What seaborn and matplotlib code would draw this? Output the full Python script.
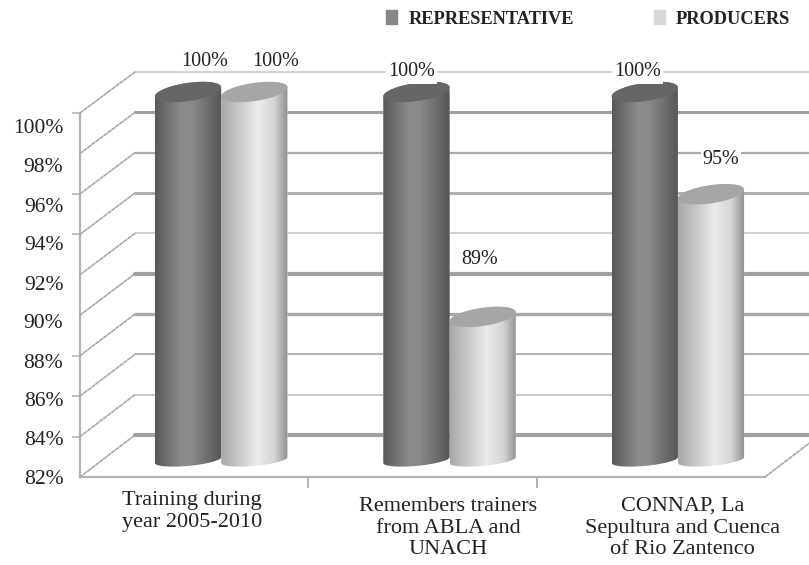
import matplotlib

matplotlib.use("Agg")
import matplotlib.pyplot as plt
import numpy as np
import pandas as pd
import seaborn as sns
from matplotlib.colors import LinearSegmentedColormap
from matplotlib.patches import ConnectionPatch, Patch, Polygon
from matplotlib.transforms import ScaledTranslation

categories = [
    "Training during\nyear 2005-2010",
    "Remembers trainers\nfrom ABLA and\nUNACH",
    "CONNAP, La\nSepultura and Cuenca\nof Rio Zantenco",
]
representative = [100, 100, 100]
producers = [100, 89, 95]
y_ticks = [82, 84, 86, 88, 90, 92, 94, 96, 98, 100]

W, H = 809, 565
GREY = "#b4b4b4"
TEXT = "#222222"

sns.set_theme(style="white")
plt.rcParams["font.family"] = ["Liberation Serif", "DejaVu Serif"]

df = pd.DataFrame(
    {"cat": categories, "REPRESENTATIVE": representative, "PRODUCERS": producers}
).melt(id_vars="cat", var_name="group", value_name="pct")


# axes box given in pixels: x of the left edge, y of the 82% line and of the 100% line
def plane(fig, left, y82, y100):
    ax = fig.add_axes([left / W, 1 - y82 / H, 685 / W, (y82 - y100) / H])
    ax.set_xlim(-0.5, 2.5)
    ax.set_ylim(82, 100)
    ax.patch.set_alpha(0)
    return ax


# move a tick label by some pixels, the print has them off the tick positions
def shift_label(label, dx, dy):
    label.set_transform(
        label.get_transform() + ScaledTranslation(dx / 100, -dy / 100, fig.dpi_scale_trans)
    )


fig = plt.figure(figsize=(W / 100, H / 100), dpi=100)
back = plane(fig, 135, 435, 72)
front = plane(fig, 80, 477, 113)
bars = plane(fig, 107, 460, 92)

# back wall lines, some of them print heavier than the others
grid_lw = [3, 1.2, 1.5, 2.4, 3, 1.1, 2, 1.6, 2.2, 1.1]
grid_col = ["#a0a0a0", "#c0c0c0", "#b4b4b4", "#a8a8a8", "#a0a0a0",
            "#c4c4c4", "#a8a8a8", "#aaaaaa", "#a0a0a0", "#c8c8c8"]
back.set_yticks(y_ticks)
back.set_xticks([])
back.set_yticklabels([])
back.tick_params(left=False)
back.grid(axis="y")
for line, lw, col in zip(back.yaxis.get_gridlines(), grid_lw, grid_col):
    line.set_linewidth(lw)
    line.set_color(col)
    line.set_clip_on(False)
sns.despine(ax=back, left=True, bottom=True, right=True, top=True)

# front frame with the tick labels
front.set_yticks(y_ticks)
front.set_yticklabels([f"{t}%" for t in y_ticks], fontsize=15.5, color=TEXT)
front.set_xticks([0, 1, 2])
front.set_xticklabels(categories, fontsize=16, color=TEXT, linespacing=1.2)
front.set_xticks([0.5, 1.5], minor=True)
front.tick_params(axis="x", which="major", length=0, pad=10)
front.tick_params(axis="x", which="minor", bottom=True, length=8, width=1.4, color=GREY)
front.tick_params(axis="y", left=True, length=6, width=1.2, color=GREY, pad=6)
sns.despine(ax=front, right=True, top=True)
for side in ["left", "bottom"]:
    front.spines[side].set_color(GREY)
    front.spines[side].set_linewidth(1.6)

label_drop = [0, 1, 3, 5, 6, 8, 9, 11, 12, 13]
tick_on = [False, True, True, True, False, False, True, True, False, True]
for tick, drop, on in zip(front.yaxis.get_major_ticks(), label_drop, tick_on):
    shift_label(tick.label1, 0, drop)
    tick.tick1line.set_visible(on)
for label, dx, dy in zip(front.get_xticklabels(), [-2, 26, 32], [0, 6, 6]):
    shift_label(label, dx, dy)

# dashed floor and wall edges between front and back
dash = dict(color="#a8a8a8", lw=1.2, ls=(0, (2, 1)))
for t in y_ticks:
    fig.add_artist(ConnectionPatch((-0.5, t), (-0.5, t), front.transData, back.transData, **dash))
fig.add_artist(ConnectionPatch((2.5, 82), (2.5, 82), front.transData, back.transData, **dash))

palette = {"REPRESENTATIVE": "#868686", "PRODUCERS": "#d8d8d8"}
sns.barplot(
    data=df, x="cat", y="pct", hue="group", palette=palette,
    width=0.58, gap=0, legend=False, ax=bars,
)
bars.set_axis_off()

body_maps = [
    LinearSegmentedColormap.from_list(
        "rep", [(0, "#585858"), (0.4, "#8c8c8c"), (0.55, "#8a8a8a"), (1, "#555555")]
    ),
    LinearSegmentedColormap.from_list(
        "prod", [(0, "#a8a8a8"), (0.55, "#ebebeb"), (0.8, "#d4d4d4"), (1, "#8e8e8e")]
    ),
]
cap_colors = ["#666666", "#a6a6a6"]
# label offsets from the top of each bar, in pixels
label_dx = [[17, -5, -7], [21, -3, 10]]
label_dy = [[31, 20, 20], [31, 57, 35]]
label_box = [[False, True, True], [False, False, True]]

ry, tilt = 9 / 20.17, 4.5 / 20.17
t = np.linspace(0, 2 * np.pi, 120)
for g, container in enumerate(bars.containers):
    for c, bar in enumerate(container):
        top = bar.get_height()
        x0, w = bar.get_x(), bar.get_width()
        cx = x0 + w / 2
        bar.set_bounds(x0, 82, w, top - 82)
        # outline: front half of the base ellipse (a bit flatter), then back half of the top one
        low = np.linspace(np.pi, 2 * np.pi, 60)
        high = np.linspace(0, np.pi, 60)
        xs = np.r_[cx + w / 2 * np.cos(low), cx + w / 2 * np.cos(high)]
        ys = np.r_[
            82 + 0.65 * (ry * np.sin(low) + tilt * np.cos(low)),
            top + ry * np.sin(high) + tilt * np.cos(high),
        ]
        outline = Polygon(np.c_[xs, ys], transform=bars.transData, fc="none", ec="none")
        outline.set_clip_on(False)
        bars.add_patch(outline)
        bar.set_clip_path(outline)
        bar.set_clip_box(fig.bbox)
        im = bars.imshow(
            np.linspace(0, 1, 256)[None, :], cmap=body_maps[g], aspect="auto",
            extent=(x0, x0 + w, 81, top + 1), zorder=3 + g, interpolation="bilinear",
        )
        im.set_clip_path(outline)
        im.set_clip_box(fig.bbox)
        bars.fill(
            cx + w / 2 * np.cos(t), top + ry * np.sin(t) + tilt * np.cos(t),
            color=cap_colors[g], zorder=3 + g, lw=0, clip_on=False,
        )
        box = dict(fc="white", ec="none", pad=1.5) if label_box[g][c] else None
        bars.annotate(
            f"{top:.0f}%", (cx, top), xytext=(label_dx[g][c] * 0.72, label_dy[g][c] * 0.72),
            textcoords="offset points", ha="center", va="center",
            fontsize=14.5, color=TEXT, bbox=box, zorder=6,
        )
bars.set_xlim(-0.5, 2.5)
bars.set_ylim(82, 100)

handles = [Patch(color=palette[k], label=k) for k in palette]
fig.legend(
    handles=handles, ncol=2, frameon=False, loc="center left",
    bbox_to_anchor=(379 / W, 1 - 19 / H), handlelength=0.6, handleheight=0.76,
    handletextpad=0.6, columnspacing=4.35, borderaxespad=0, labelcolor=TEXT,
    prop={"weight": "bold", "size": 13.2},
)

fig.savefig("out.png", dpi=100)
